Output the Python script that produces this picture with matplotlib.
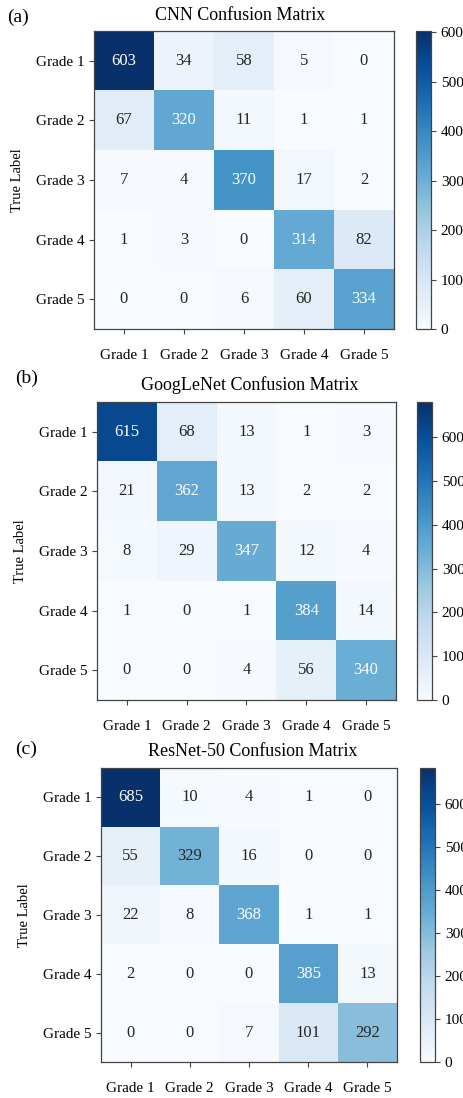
import numpy as np
import matplotlib
matplotlib.use("Agg")
import matplotlib.pyplot as plt
from matplotlib.colors import Normalize

plt.rcParams["font.family"] = ["Liberation Serif", "DejaVu Serif"]

classes = ["Grade 1", "Grade 2", "Grade 3", "Grade 4", "Grade 5"]

cnn_cm = [
    [603, 34, 58, 5, 0],
    [67, 320, 11, 1, 1],
    [7, 4, 370, 17, 2],
    [1, 3, 0, 314, 82],
    [0, 0, 6, 60, 334],
]
googlenet_cm = [
    [615, 68, 13, 1, 3],
    [21, 362, 13, 2, 2],
    [8, 29, 347, 12, 4],
    [1, 0, 1, 384, 14],
    [0, 0, 4, 56, 340],
]
resnet_cm = [
    [685, 10, 4, 1, 0],
    [55, 329, 16, 0, 0],
    [22, 8, 368, 1, 1],
    [2, 0, 0, 385, 13],
    [0, 0, 7, 101, 292],
]

panels = [
    ("(a)", "CNN Confusion Matrix", cnn_cm, 603),
    ("(b)", "GoogLeNet Confusion Matrix", googlenet_cm, 680),
    ("(c)", "ResNet-50 Confusion Matrix", resnet_cm, 685),
]

W, H = 464, 1098
fig = plt.figure(figsize=(W / 100, H / 100), dpi=100)


def px_axes(x0, y0, x1, y1):
    return fig.add_axes([x0 / W, 1 - y1 / H, (x1 - x0) / W, (y1 - y0) / H])


def luminance(rgb):
    # WCAG relative luminance of an sRGB colour
    c = np.asarray(rgb[:3], dtype=float)
    c = np.where(c <= 0.03928, c / 12.92, ((c + 0.055) / 1.055) ** 2.4)
    return 0.2126 * c[0] + 0.7152 * c[1] + 0.0722 * c[2]


# pixel boxes: heatmap, colorbar, panel letter, title centre
layout = [
    dict(hm=(94, 31, 394, 329), cb=(416, 31, 431, 329), tag=(7, 17), ttl=(240, 15)),
    dict(hm=(97, 402, 396, 700), cb=(417, 402, 432, 700), tag=(15, 378), ttl=(250, 385)),
    dict(hm=(101, 768, 397, 1062), cb=(420, 768, 435, 1062), tag=(15, 749), ttl=(253, 751)),
]

cmap = plt.get_cmap("Blues")
edge = "#444444"

for (tag, title, cm, vmax), lay in zip(panels, layout):
    data = np.array(cm)
    norm = Normalize(vmin=0, vmax=vmax)
    ax = px_axes(*lay["hm"])
    im = ax.imshow(data, cmap=cmap, norm=norm, aspect="auto")
    n = len(classes)
    for i in range(n):
        for j in range(n):
            col = "white" if luminance(cmap(norm(data[i, j]))) < 0.408 else "#262626"
            ax.text(j, i, str(data[i, j]), ha="center", va="center",
                    fontsize=12, color=col)
    ax.set_xticks(range(n))
    ax.set_yticks(range(n))
    ax.set_xticklabels(classes, fontsize=11)
    ax.set_yticklabels(classes, fontsize=11)
    ax.tick_params(axis="x", length=3.5, width=0.8, pad=11, color=edge)
    ax.tick_params(axis="y", length=3.5, width=0.8, pad=3, color=edge)
    ax.set_ylabel("True Label", fontsize=10.5, labelpad=9)
    for s in ax.spines.values():
        s.set_color(edge)
        s.set_linewidth(0.9)

    cax = px_axes(*lay["cb"])
    cb = fig.colorbar(im, cax=cax)
    cb.set_ticks([0, 100, 200, 300, 400, 500, 600])
    cb.ax.tick_params(labelsize=11, length=3.5, width=0.8, color=edge)
    cb.outline.set_edgecolor(edge)
    cb.outline.set_linewidth(0.9)

    tx, ty = lay["tag"]
    fig.text(tx / W, 1 - ty / H, tag, fontsize=14, ha="left", va="center")
    cx, cy = lay["ttl"]
    fig.text(cx / W, 1 - cy / H, title, fontsize=13, ha="center", va="center")

fig.savefig("out.png", dpi=100)
